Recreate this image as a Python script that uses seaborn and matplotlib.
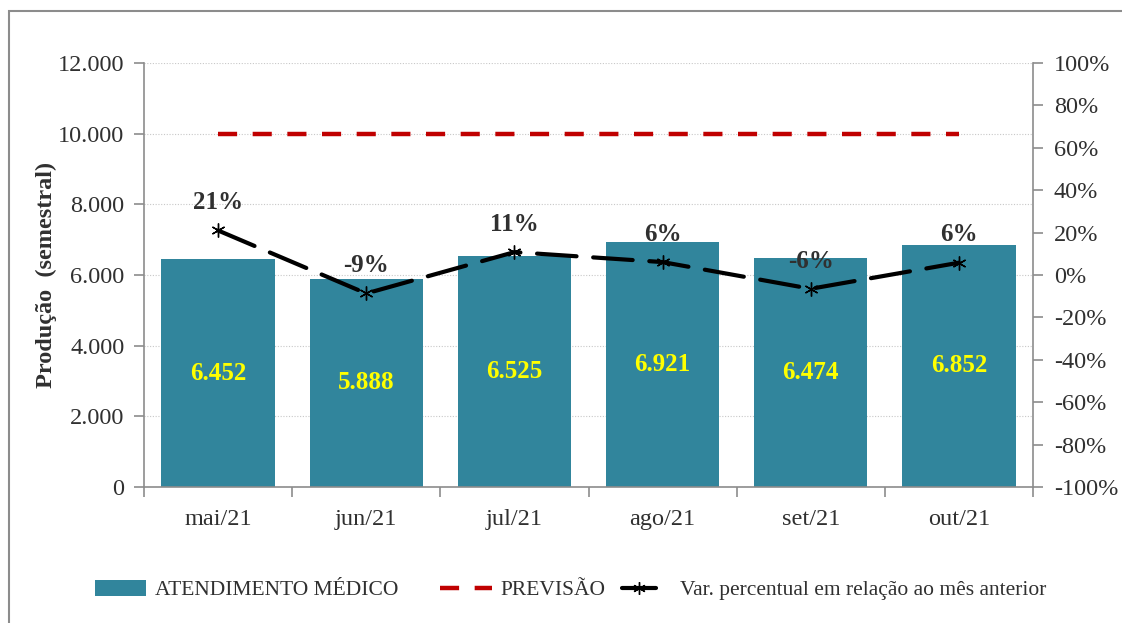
import numpy as np
import pandas as pd
import matplotlib
matplotlib.use("Agg")
import matplotlib.pyplot as plt
import seaborn as sns
from matplotlib.patches import Patch, Rectangle
from matplotlib.lines import Line2D
from matplotlib.ticker import FuncFormatter, FixedLocator

months = ["mai/21", "jun/21", "jul/21", "ago/21", "set/21", "out/21"]
atendimento = [6452, 5888, 6525, 6921, 6474, 6852]
previsao = [10000, 10000, 10000, 10000, 10000, 10000]
variacao = [0.21, -0.087, 0.108, 0.061, -0.065, 0.058]
var_labels = ["21%", "-9%", "11%", "6%", "-6%", "6%"]

BAR = "#31859C"
TXT = "#303030"
SPINE = "#8c8c8c"

sns.set_theme(style="white")
plt.rcParams["font.family"] = ["Liberation Serif", "DejaVu Serif"]

fig = plt.figure(figsize=(11.22, 6.23), dpi=100)
ax = fig.add_axes([144/1122, 1-487/623, (1033-144)/1122, (487-63)/623])
ax2 = ax.twinx()

df = pd.DataFrame({"mes": months, "atend": atendimento, "prev": previsao, "var": variacao})

sns.barplot(data=df, x="mes", y="atend", ax=ax, color=BAR, saturation=1,
            width=0.765, edgecolor="none", zorder=2)
sns.pointplot(data=df, x="mes", y="prev", ax=ax, color="#C00000", markers="",
              linestyles="--", zorder=4)
sns.pointplot(data=df, x="mes", y="var", ax=ax2, color="black",
              markers=(6, 2, 0), linestyles="--", zorder=5)

# restyle lines
for ln in ax.lines:
    ln.set_linewidth(3.2)
    ln.set_dashes((4.3, 3.5))
    ln.set_dash_capstyle("butt")
for ln in ax2.lines:
    ln.set_linewidth(3.0)
    ln.set_dashes((9.5, 4.0))
    ln.set_dash_capstyle("round")
    ln.set_marker((6, 2, 0))
    ln.set_markersize(10)
    ln.set_markeredgewidth(1.0)
    ln.set_markeredgecolor("black")

ax.set_ylim(0, 12000)
ax2.set_ylim(-1, 1)
ax.set_xlim(-0.5, 5.5)
ax2.set_xlim(-0.5, 5.5)

ax.set_yticks(np.arange(0, 12001, 2000))
ax.yaxis.set_major_formatter(FuncFormatter(lambda v, p: f"{int(v):,}".replace(",", ".")))
ax2.set_yticks(np.arange(-1, 1.0001, 0.2))
ax2.yaxis.set_major_formatter(FuncFormatter(lambda v, p: f"{round(v*100):d}%"))

ax.grid(axis="y", color="#c8c8c8", linestyle=(0, (1, 1.5)), linewidth=0.8, zorder=0)
ax.set_axisbelow(True)
ax2.grid(False)

# x ticks: labels at centers, tick marks at boundaries
ax.set_xticks(range(len(months)))
ax.set_xticklabels(months)
ax.xaxis.set_minor_locator(FixedLocator(np.arange(-0.5, 6.0, 1)))
ax.tick_params(axis="x", which="major", length=0, pad=16, labelsize=17.5, labelcolor=TXT)
ax.tick_params(axis="x", which="minor", length=7, width=1.2, color=SPINE, direction="out", bottom=True)
ax.tick_params(axis="y", length=7, width=1.2, color=SPINE, direction="out", left=True,
               labelsize=17.5, labelcolor=TXT, pad=7)
ax2.tick_params(axis="y", length=7, width=1.2, color=SPINE, direction="out", right=True,
                labelsize=17.5, labelcolor=TXT, pad=8)
ax2.tick_params(axis="x", length=0, labelbottom=False)

ax.set_xlabel("")
ax.set_ylabel("Produção  (semestral)", fontsize=17.5, fontweight="bold", color=TXT, labelpad=1)
ax2.set_ylabel("")

for a in (ax, ax2):
    a.spines["top"].set_visible(False)
    for s in ("left", "right", "bottom"):
        a.spines[s].set_color(SPINE)
        a.spines[s].set_linewidth(1.2)
ax.spines["right"].set_visible(False)
ax2.spines["left"].set_visible(False)
ax2.spines["bottom"].set_visible(False)

# value labels
for i, v in enumerate(atendimento):
    ax.text(i, v / 2, f"{v:,}".replace(",", "."), ha="center", va="center",
            fontsize=18, fontweight="bold", color="#FFFF00", zorder=6)
for i, (v, lab) in enumerate(zip(variacao, var_labels)):
    ax2.annotate(lab, (i, v), xytext=(0, 20), textcoords="offset points",
                 ha="center", va="center", fontsize=18, fontweight="bold", color=TXT, zorder=7)

# legend: three separately placed entries
labels = ["ATENDIMENTO MÉDICO", "PREVISÃO", "Var. percentual em relação ao mês anterior"]
handles = [
    Patch(facecolor=BAR, edgecolor="none"),
    Line2D([], [], color="#C00000", lw=3.2, dashes=(4.3, 3.5)),
    Line2D([], [], color="black", lw=3.0, marker=(6, 2, 0), markersize=9,
           markevery=[1], markeredgewidth=1.0),
]
lx = [95, 440, 622]
hlen = [51, 52, 34]
tpad = [0.4, 0.4, 1.1]
fs = 15.5
for h, lab, x0, hl, tp in zip(handles, labels, lx, hlen, tpad):
    leg = fig.legend([h], [lab], loc="center left",
                     bbox_to_anchor=(x0/1122, 1-590/623), frameon=False,
                     fontsize=fs, handlelength=hl / (fs * 100 / 72), handleheight=0.75,
                     handletextpad=tp, borderpad=0, borderaxespad=0)
    for t in leg.get_texts():
        t.set_color(TXT)

# outer frame
fig.patches.append(Rectangle((9/1122, -0.05), 1.1, 1-11/623+0.05, transform=fig.transFigure,
                             fill=False, edgecolor="#8c8c8c", linewidth=1.5))

fig.savefig("out.png", dpi=100)
